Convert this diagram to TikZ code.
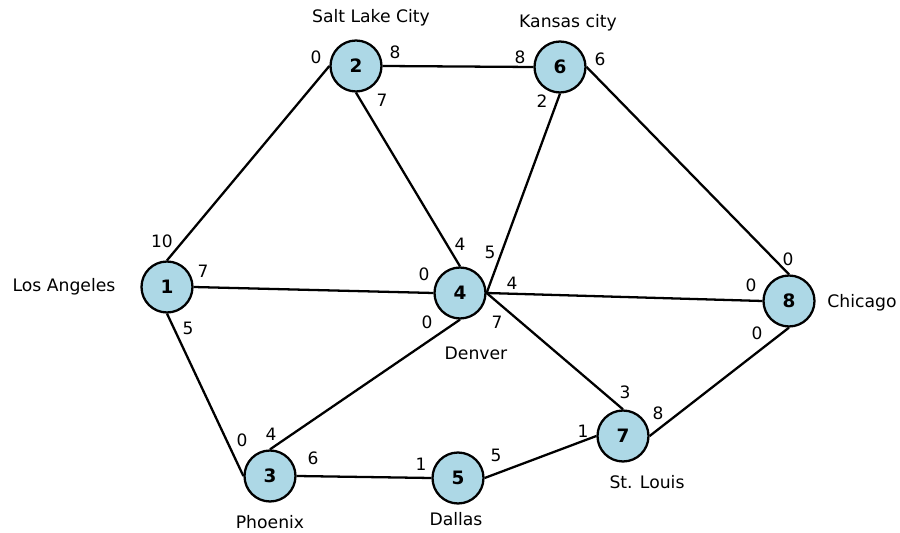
\documentclass[tikz,border=0pt]{standalone}
\usepackage{fontspec}
\setmainfont{DejaVu Sans}
\usetikzlibrary{positioning}
\definecolor{lightblue}{RGB}{173,216,230}
\tikzset{
  city/.style={circle,draw,line width=1.3pt,fill=lightblue,minimum size=1.02cm,inner sep=0pt,font=\fontsize{10.5}{12}\selectfont\bfseries},
  wt/.style={font=\fontsize{9.7}{11}\selectfont,inner sep=0pt},
  place/.style={font=\fontsize{9.8}{12}\selectfont,inner sep=0pt},
  road/.style={line width=1.3pt}
}

\begin{document}
\begin{tikzpicture}[x=0.02cm,y=-0.02cm]
        \useasboundingbox (0,0) rectangle (900,533);

        % cities
        \node[city] (n1) at (167,287) {1};
        \node[city] (n2) at (356,66) {2};
        \node[city] (n6) at (560,67) {6};
        \node[city] (n4) at (460,293) {4};
        \node[city] (n8) at (789,301) {8};
        \node[city] (n7) at (623,436) {7};
        \node[city] (n3) at (270,476) {3};
        \node[city] (n5) at (458,478) {5};

        % names
        \node[place] (la) at (64,287) {Los Angeles};
        \node[place] (slc) at (371,18) {Salt Lake City};
        \node[place] (kc) at (568,23) {Kansas city};
        \node[place] (den) at (476,353) {Denver};
        \node[place] (chi) at (862,303) {Chicago};
        \node[place] (stl) at (647,482) {St. Louis};
        \node[place] (phx) at (270,522) {Phoenix};
        \node[place] (dal) at (456,519) {Dallas};

        % roads
        \begin{scope}[road]
        \draw (n1.north) -- (n2.west);
        \draw (n1.east) -- (n4.west);
        \draw (n1.south) -- (n3.west);
        \draw (n2.east) -- (n6.west);
        \draw (n2.south) -- (n4.north);
        \draw (n6.south) -- (n4.east);
        \draw (n6.east) -- (n8.north);
        \draw (n4.east) -- (n8.west);
        \draw (n4.east) -- (n7.north);
        \draw (n4.south) -- (n3.north);
        \draw (n3.east) -- (n5.west);
        \draw (n5.east) -- (n7.west);
        \draw (n7.east) -- (n8.south);
        \end{scope}

        % weights
        \node[wt] (w1a) at (162,241) {10};
        \node[wt] (w1b) at (203,271) {7};
        \node[wt] (w1c) at (188,328) {5};
        \node[wt] (w2a) at (316,57) {0};
        \node[wt] (w2b) at (395,52) {8};
        \node[wt] (w2c) at (382,100) {7};
        \node[wt] (w6a) at (520,57) {8};
        \node[wt] (w6b) at (600,59) {6};
        \node[wt] (w6c) at (542,101) {2};
        \node[wt] (w4a) at (460,244) {4};
        \node[wt] (w4b) at (490,252) {5};
        \node[wt] (w4c) at (424,274) {0};
        \node[wt] (w4d) at (512,283) {4};
        \node[wt] (w4e) at (427,322) {0};
        \node[wt] (w4f) at (497,322) {7};
        \node[wt] (w8a) at (788,259) {0};
        \node[wt] (w8b) at (751,285) {0};
        \node[wt] (w8c) at (757,333) {0};
        \node[wt] (w7a) at (625,392) {3};
        \node[wt] (w7b) at (583,431) {1};
        \node[wt] (w7c) at (658,413) {8};
        \node[wt] (w3a) at (242,440) {0};
        \node[wt] (w3b) at (271,434) {4};
        \node[wt] (w3c) at (313,458) {6};
        \node[wt] (w5a) at (421,464) {1};
        \node[wt] (w5b) at (496,455) {5};
    \end{tikzpicture}
\end{document}
